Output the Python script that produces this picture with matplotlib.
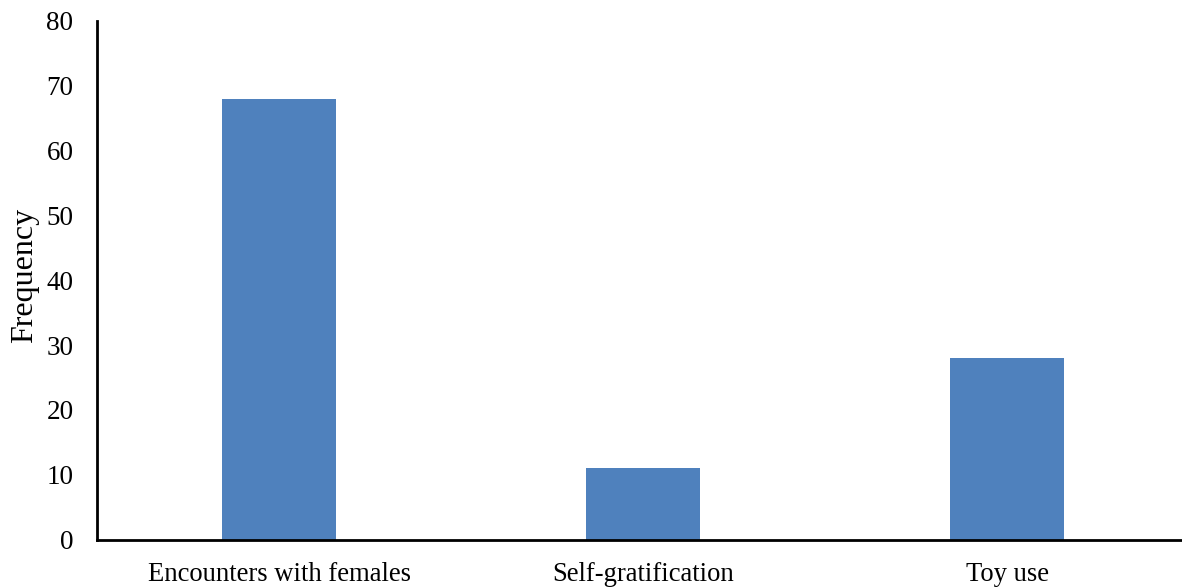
import matplotlib
matplotlib.use('Agg')
import matplotlib.pyplot as plt

categories = ['Encounters with females', 'Self-gratification', 'Toy use']
frequency = [68, 11, 28]
y_ticks = [0, 10, 20, 30, 40, 50, 60, 70, 80]

plt.rcParams['font.family'] = ['Liberation Serif', 'DejaVu Serif']

fig = plt.figure(figsize=(11.82, 5.87), dpi=100)
# right edge runs slightly past the canvas, so the baseline reaches the border
ax = fig.add_axes([97 / 1182, 47.5 / 587, 1092 / 1182, 518.5 / 587])

x = list(range(len(categories)))
ax.bar(x, frequency, width=0.315, color='#4F81BD', zorder=2)

ax.set_xlim(-0.5, 2.5)
ax.set_ylim(0, 80)
ax.set_yticks(y_ticks)
ax.set_yticklabels([str(t) for t in y_ticks], fontsize=19.5)
ax.set_xticks(x)
ax.set_xticklabels(categories, fontsize=19.2)
ax.tick_params(axis='y', length=0, pad=17)
ax.tick_params(axis='x', length=0, pad=16)

ax.set_ylabel('Frequency', fontsize=23)
ax.yaxis.set_label_coords(-0.053, 0.51)

for side in ['top', 'right']:
    ax.spines[side].set_visible(False)
for side in ['left', 'bottom']:
    ax.spines[side].set_linewidth(2)
    ax.spines[side].set_color('black')

fig.savefig('out.png', dpi=100)
